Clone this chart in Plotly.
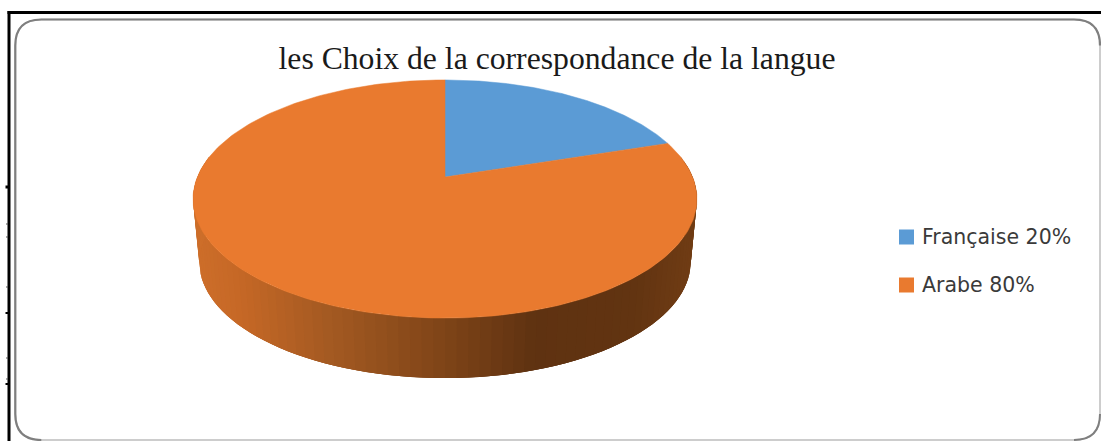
import numpy as np
import plotly.graph_objects as go

# Chart content
title_text = "les Choix de la correspondance de la langue"
languages = ["Française", "Arabe"]
shares = [20, 80]
slice_colors = ["#5B9BD5", "#E97A2F"]

# Shading along the visible rim of the disc, left to right
rim_stops = [193, 240, 330, 445, 540, 640, 697]
rim_red = [205, 198, 165, 128, 95, 98, 112]
rim_green = [110, 104, 90, 69, 50, 52, 60]
rim_blue = [42, 38, 34, 24, 17, 17, 20]

# Perspective model of the tilted disc, in pixel units of the plot
CX, CY = 445.0, 177.0
RX, RY = 247.6, 115.0
PERSPECTIVE = 0.185
DEPTH = 63.5
BASE_SCALE = 0.975


def project(theta, scale=1.0, drop=0.0):
    """Map an angle measured clockwise from 12 o'clock onto the disc."""
    u, v = np.sin(theta), np.cos(theta)
    w = 1 + PERSPECTIVE * v
    return CX + scale * RX * u / w, CY + drop - scale * RY * v / w


def rim_color(x):
    r = np.interp(x, rim_stops, rim_red)
    g = np.interp(x, rim_stops, rim_green)
    b = np.interp(x, rim_stops, rim_blue)
    return f"rgb({r:.0f},{g:.0f},{b:.0f})"


def polygon(xs, ys, color, name=None, edge=0.5):
    return go.Scatter(
        x=xs, y=ys, mode="lines", fill="toself", fillcolor=color,
        line=dict(color=color, width=edge), hoverinfo="skip" if name is None else "name",
        name=name or "", showlegend=False,
    )


fig = go.Figure()

# Rim of the disc: strips painted in order, each overlapping the next one
# so that no seams show between the shades
edges = np.linspace(np.pi / 2 - 0.18, 3 * np.pi / 2 + 0.18, 91)
for i in range(len(edges) - 1):
    seg = np.linspace(edges[i], edges[min(i + 3, len(edges) - 1)], 4)
    top_x, top_y = project(seg)
    low_x, low_y = project(seg[::-1], BASE_SCALE, DEPTH)
    fig.add_trace(polygon(
        np.concatenate([top_x, low_x]), np.concatenate([top_y, low_y]),
        rim_color(top_x[0]), edge=0,
    ))

# Top face: one wedge per language, sized from its share
start = 0.0
for lang, share, color in zip(languages, shares, slice_colors):
    sweep = 2 * np.pi * share / sum(shares)
    arc = np.linspace(start, start + sweep, 240)
    arc_x, arc_y = project(arc)
    fig.add_trace(polygon(
        np.concatenate([[CX], arc_x, [CX]]), np.concatenate([[CY], arc_y, [CY]]),
        color, name=f"{lang} {share}%",
    ))
    start += sweep

# Key on the right-hand side
key_x = [906.5, 906.5]
key_y = [237, 285]
for lang, share, color, kx, ky in zip(languages, shares, slice_colors, key_x, key_y):
    fig.add_trace(go.Scatter(
        x=[kx], y=[ky], mode="markers", showlegend=False, hoverinfo="skip",
        marker=dict(symbol="square", size=15, color=color),
    ))
    fig.add_annotation(
        x=kx + 13, y=ky, text=f"{lang} {share}%", showarrow=False,
        xanchor="left", yanchor="middle",
        font=dict(family="DejaVu Sans", size=20.5, color="#3A3A3A"),
    )

# Rounded card: pale all round, darker on the top, left and corners
L, T, R, B, C = 15.3, 19.5, 1100, 440, 26
card = (
    f"M {L + C} {T} L {R - C} {T} Q {R} {T} {R} {T + C} L {R} {B - C} "
    f"Q {R} {B} {R - C} {B} L {L + C} {B} Q {L} {B} {L} {B - C} "
    f"L {L} {T + C} Q {L} {T} {L + C} {T} Z"
)
card_dark = (
    f"M {L + C} {B} Q {L} {B} {L} {B - C} L {L} {T + C} Q {L} {T} {L + C} {T} "
    f"L {R - C} {T} Q {R} {T} {R} {T + C}"
)
corner_dark = f"M {R} {B - C} Q {R} {B} {R - C} {B}"
shapes = [
    dict(type="path", path=card, line=dict(color="#BDBDBD", width=1.5), layer="below"),
    dict(type="path", path=card_dark, line=dict(color="#7F7F7F", width=2.2), layer="below"),
    dict(type="path", path=corner_dark, line=dict(color="#7F7F7F", width=2), layer="below"),
    dict(type="line", x0=7.5, x1=1101, y0=12.5, y1=12.5, line=dict(color="black", width=3)),
    dict(type="line", x0=9, x1=9, y0=11, y1=441, line=dict(color="black", width=3)),
]

# Small marks sticking out of the left rule
for tick_y in [224, 237, 287, 358, 379]:
    shapes.append(dict(type="line", x0=6, x1=8, y0=tick_y, y1=tick_y,
                       line=dict(color="#555555", width=1)))
for tick_y in [187, 313, 384]:
    shapes.append(dict(type="line", x0=5.5, x1=8, y0=tick_y, y1=tick_y,
                       line=dict(color="black", width=3 if tick_y == 187 else 2)))

fig.update_layout(
    width=1101, height=441, margin=dict(l=0, r=0, t=0, b=0),
    paper_bgcolor="white", plot_bgcolor="white", showlegend=False,
    title=dict(
        text=title_text, x=557 / 1101, xanchor="center", xref="paper",
        y=1 - 58 / 441, yanchor="middle", yref="paper",
        font=dict(family="Liberation Serif", size=31.7, color="#1A1A1A"),
    ),
    xaxis=dict(range=[0, 1101], visible=False, fixedrange=True),
    yaxis=dict(range=[441, 0], visible=False, fixedrange=True),
    shapes=shapes,
)

fig.write_html("out.html", config=dict(displayModeBar=False))
